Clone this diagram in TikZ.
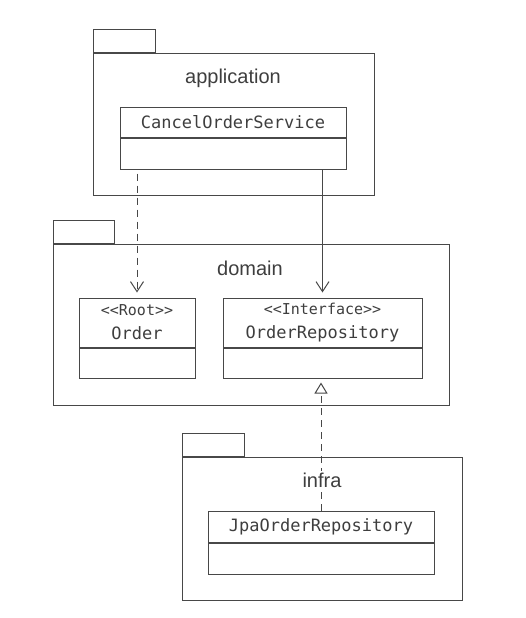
\documentclass[tikz,border=0pt]{standalone}
\usepackage{fontspec}
\setmainfont{Liberation Sans}
\setmonofont{DejaVu Sans Mono}
\usepackage{tikz}
\usetikzlibrary{positioning}
\usetikzlibrary{arrows.meta}

\definecolor{inkgray}{HTML}{3E3E3E}
\definecolor{linegray}{HTML}{484848}

\tikzset{
  pkg/.style={draw=linegray, line width=1pt, rectangle, inner sep=0pt},
  pkglabel/.style={text=inkgray, font=\fontsize{20}{22}\selectfont, anchor=base, inner sep=1.5pt},
  clshead/.style={draw=linegray, line width=1pt, rectangle, inner sep=0pt, text=inkgray,
    font=\ttfamily\fontsize{17}{24}\selectfont, align=center},
  clsbody/.style={draw=linegray, line width=1pt, rectangle, inner sep=0pt},
  depend/.style={draw=linegray, line width=1pt, dash pattern=on 7pt off 5pt,
    -{Straight Barb[length=10pt,width=13pt]}},
  assoc/.style={draw=linegray, line width=1pt, -{Straight Barb[length=10pt,width=13pt]}},
  realize/.style={draw=linegray, line width=1pt, dash pattern=on 7pt off 5pt,
    -{Triangle[open, length=11pt, width=13pt, fill=white]}}
}

\begin{document}
\begin{tikzpicture}[x=1pt, y=-1pt]
      \useasboundingbox (0,0) rectangle (526,618);
      % packages
      \node[pkg, minimum width=281pt, minimum height=142pt, anchor=north west] (appPkg) at (93,53) {};
      \node[pkg, minimum width=62pt, minimum height=23pt, anchor=south west] (appTab) at (appPkg.north west) {};
      \node[pkglabel] (appLabel) at (233,84) {application};
      \node[pkg, minimum width=396pt, minimum height=161pt, anchor=north west] (domainPkg) at (53,244) {};
      \node[pkg, minimum width=61pt, minimum height=23pt, anchor=south west] (domainTab) at (domainPkg.north west) {};
      \node[pkglabel] (domainLabel) at (250,275) {domain};
      \node[pkg, minimum width=280pt, minimum height=143pt, anchor=north west] (infraPkg) at (182,457) {};
      \node[pkg, minimum width=62pt, minimum height=23pt, anchor=south west] (infraTab) at (infraPkg.north west) {};
      % classes
      \node[clshead, minimum width=226pt, minimum height=30pt] (cancelSvc) at (233,122) {CancelOrderService};
      \node[clsbody, minimum width=226pt, minimum height=31pt, below=0pt of cancelSvc] (cancelSvcBody) {};
      \node[clshead, minimum width=116pt, minimum height=49pt] (order) at (137,322.5) {{\fontsize{15}{24}\selectfont <<Root>>}\\Order};
      \node[clsbody, minimum width=116pt, minimum height=30pt, below=0pt of order] (orderBody) {};
      \node[clshead, minimum width=199pt, minimum height=49pt] (orderRepo) at (322.5,322.5) {{\fontsize{15}{24}\selectfont <<Interface>>}\\OrderRepository};
      \node[clsbody, minimum width=199pt, minimum height=30pt, below=0pt of orderRepo] (orderRepoBody) {};
      \node[clshead, minimum width=226pt, minimum height=31pt] (jpaRepo) at (321,526.5) {JpaOrderRepository};
      \node[clsbody, minimum width=226pt, minimum height=31pt, below=0pt of jpaRepo] (jpaRepoBody) {};
      % connectors
      \draw[depend] ([yshift=-4pt]cancelSvcBody.south -| order.north) -- ([yshift=5pt]order.north);
      \draw[assoc] (cancelSvcBody.south -| orderRepo.north) -- ([yshift=5pt]orderRepo.north);
      \draw[realize] (jpaRepo.north) -- ([yshift=-4pt]orderRepoBody.south -| jpaRepo.north);
      \node[pkglabel, fill=white] (infraLabel) at (322,487) {infra};
\end{tikzpicture}
\end{document}
